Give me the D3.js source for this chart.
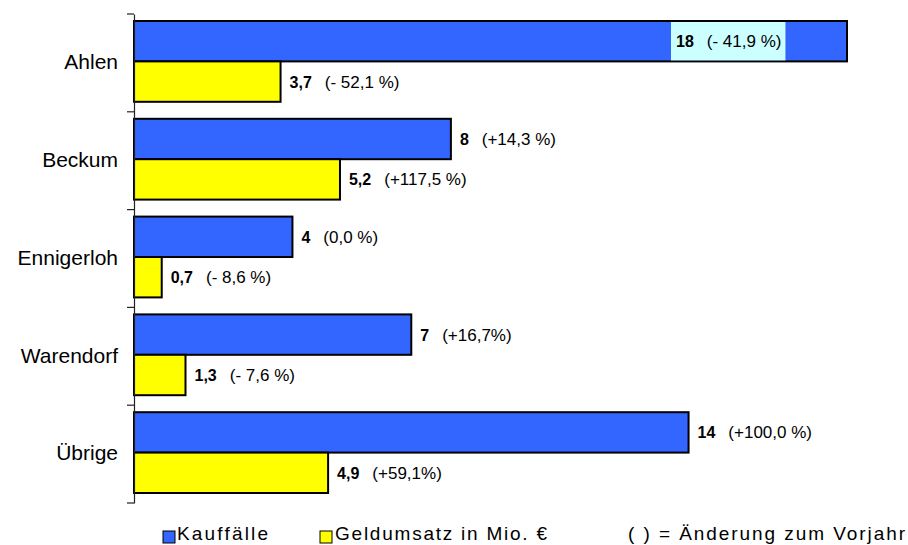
<!DOCTYPE html>
<html>
<head>
<meta charset="utf-8">
<script src="https://cdn.jsdelivr.net/npm/d3@7"></script>
<style>
  html, body { margin: 0; padding: 0; background: #fff; }
  svg { display: block; font-family: "Liberation Sans", Arial, sans-serif; }
</style>
</head>
<body>
<svg id="chart" width="908" height="545"></svg>
<script>
const categories = ["Ahlen", "Beckum", "Ennigerloh", "Warendorf", "Übrige"];
const kauffaelle = [18, 8, 4, 7, 14];
const geldumsatz = [3.7, 5.2, 0.7, 1.3, 4.9];
const kauffaelleChange = ["(- 41,9 %)", "(+14,3 %)", "(0,0 %)", "(+16,7%)", "(+100,0 %)"];
const geldumsatzChange = ["(- 52,1 %)", "(+117,5 %)", "(- 8,6 %)", "(- 7,6 %)", "(+59,1%)"];
const seriesNames = ["Kauffälle", "Geldumsatz in Mio. €"];
const legendNote = "(  ) = Änderung zum Vorjahr";
const xMax = 18;

const colors = ["#3366ff", "#ffff00"];
const de = d3.formatLocale({decimal: ",", thousands: ".", grouping: [3], currency: ["", " €"]});
const fmt = v => Number.isInteger(v) ? de.format("d")(v) : de.format(".1f")(v);

const svg = d3.select("#chart");

const x = d3.scaleLinear().domain([0, xMax]).range([134, 847]);
const y = d3.scaleBand().domain(categories).range([14, 503]).padding(0);
const y1 = d3.scaleBand().domain([0, 1]).range([7, y.bandwidth() - 10]);

const rows = categories.map((c, i) => ({
  cat: c,
  vals: [
    {s: 0, v: kauffaelle[i], ch: kauffaelleChange[i]},
    {s: 1, v: geldumsatz[i], ch: geldumsatzChange[i]}
  ]
}));

const g = svg.append("g");
const groups = g.selectAll("g.cat").data(rows).join("g")
  .attr("class", "cat")
  .attr("transform", d => `translate(0,${y(d.cat)})`);

groups.selectAll("rect").data(d => d.vals).join("rect")
  .attr("x", x(0))
  .attr("y", d => y1(d.s))
  .attr("width", d => x(d.v) - x(0))
  .attr("height", y1.bandwidth())
  .attr("fill", d => colors[d.s])
  .attr("stroke", "#000")
  .attr("stroke-width", 2);

// value labels
groups.each(function(row) {
  const gg = d3.select(this);
  row.vals.forEach(d => {
    const inside = d.v === xMax;
    const cy = y1(d.s) + y1.bandwidth() / 2;
    const bg = gg.append("rect");
    const t = gg.append("text")
      .attr("y", cy)
      .attr("dy", "0.35em")
      .attr("font-size", 17)
      .attr("fill", "#000");
    t.append("tspan").attr("font-weight", "bold").attr("font-size", 16).text(fmt(d.v));
    t.append("tspan").attr("dx", 13).text(d.ch);
    if (inside) {
      t.attr("x", x(d.v) - 171);
      const bb = t.node().getBBox();
      bg.attr("x", bb.x - 5).attr("y", y1(d.s) + 1)
        .attr("width", bb.width + 9).attr("height", y1.bandwidth() - 2)
        .attr("fill", "#ccffff");
    } else {
      t.attr("x", x(d.v) + 9);
      bg.remove();
    }
  });
});

// axis
const axis = d3.axisLeft(y).tickSize(0).tickPadding(16);
const ax = svg.append("g").attr("transform", `translate(${x(0)},0)`).call(axis);
ax.select(".domain").attr("stroke", "#222").attr("stroke-width", 1.2);
ax.selectAll(".tick text")
  .attr("font-size", 21)
  .attr("font-family", "Liberation Sans, Arial, sans-serif")
  .attr("fill", "#000")
  .attr("dy", "0.3em");
// boundary ticks between categories
const bounds = categories.map(c => y(c)).concat([y.range()[1]]);
svg.append("g").selectAll("line").data(bounds).join("line")
  .attr("x1", x(0) - 7).attr("x2", x(0))
  .attr("y1", d => d).attr("y2", d => d)
  .attr("stroke", "#222").attr("stroke-width", 1.2);

// legend
const legend = svg.append("g");
const legItems = [
  {s: 0, x: 163, tx: 177, len: 91},
  {s: 1, x: 320, tx: 335, len: 212}
];
legItems.forEach(it => {
  legend.append("rect")
    .attr("x", it.x).attr("y", 531).attr("width", 12).attr("height", 12)
    .attr("fill", colors[it.s]).attr("stroke", "#000").attr("stroke-width", 1);
  legend.append("text")
    .attr("x", it.tx).attr("y", 540)
    .attr("font-size", 19)
    .attr("textLength", it.len).attr("lengthAdjust", "spacing")
    .text(seriesNames[it.s]);
});
legend.append("text")
  .attr("x", 628).attr("y", 540)
  .attr("font-size", 19)
  .attr("textLength", 277).attr("lengthAdjust", "spacing")
  .text(legendNote);
</script>
</body>
</html>
